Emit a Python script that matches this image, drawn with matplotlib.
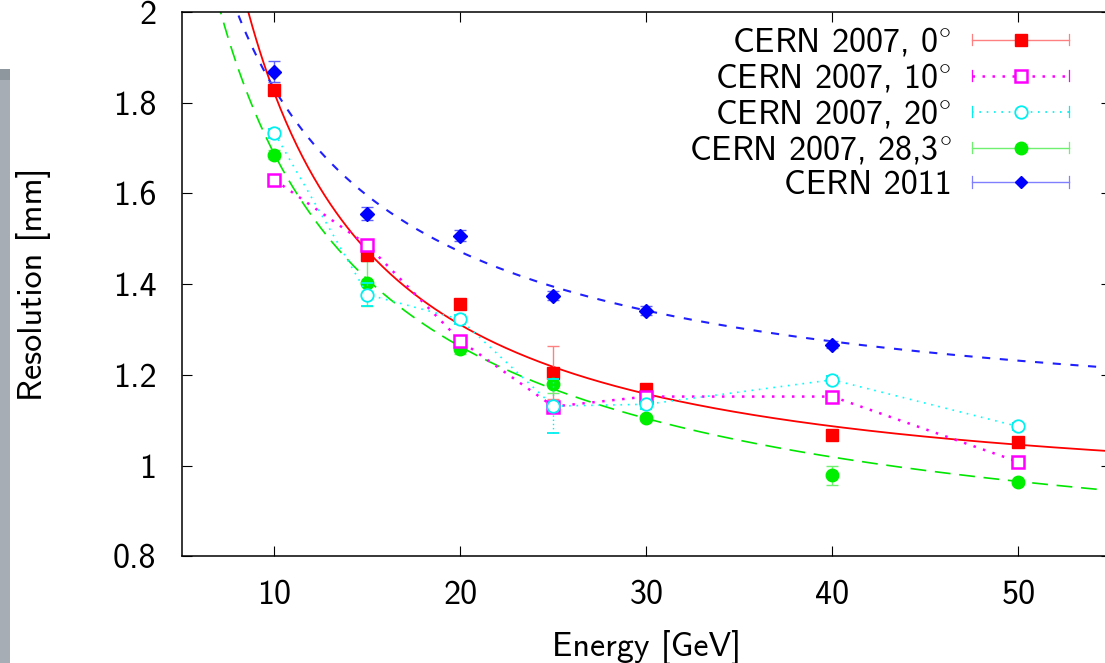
import numpy as np
import matplotlib
matplotlib.use("Agg")
import matplotlib.pyplot as plt
from matplotlib.lines import Line2D
from matplotlib.legend_handler import HandlerBase
from matplotlib.patches import Rectangle

plt.rcParams['font.family'] = ['cmss10', 'DejaVu Sans']
plt.rcParams['axes.formatter.use_mathtext'] = True
plt.rcParams['mathtext.fontset'] = 'cm'

# ---------------- data ----------------
energy_2007 = [10, 15, 20, 25, 30, 40, 50]
energy_2011 = [10, 15, 20, 25, 30, 40]

res_0deg = [1.827, 1.465, 1.357, 1.205, 1.168, 1.067, 1.052]
err_0deg = [0.010, 0.010, 0.010, 0.058, 0.010, 0.006, 0.006]

res_10deg = [1.630, 1.486, 1.275, 1.130, 1.152, 1.152, 1.008]
err_10deg = [0.010, 0.010, 0.010, 0.010, 0.010, 0.010, 0.010]

res_20deg = [1.733, 1.377, 1.322, 1.131, 1.135, 1.189, 1.086]
err_20deg = [0.010, 0.025, 0.010, 0.060, 0.010, 0.008, 0.008]

res_28deg = [1.685, 1.402, 1.256, 1.179, 1.105, 0.978, 0.963]
err_28deg = [0.010, 0.050, 0.010, 0.020, 0.006, 0.020, 0.006]

res_2011 = [1.868, 1.555, 1.507, 1.374, 1.341, 1.266]
err_2011 = [0.023, 0.014, 0.012, 0.010, 0.010, 0.008]

# fit parameters of sigma(E) = a / E**p + b
fit_0deg = (14.07, 1.19, 0.912)
fit_28deg = (6.285, 0.80, 0.690)
fit_2011 = (5.788, 0.86, 1.031)

# the degree sign is typeset through mathtext (cmss10 has no ° glyph)
labels = [r"CERN 2007, 0$^{\circ}$", r"CERN 2007, 10$^{\circ}$",
          r"CERN 2007, 20$^{\circ}$", r"CERN 2007, 28,3$^{\circ}$", "CERN 2011"]
xticks = [10, 20, 30, 40, 50]
yticks = [0.8, 1.0, 1.2, 1.4, 1.6, 1.8, 2.0]
ytick_labels = ["0.8", "1", "1.2", "1.4", "1.6", "1.8", "2"]


def model(E, params):
    a, p, b = params
    return a / np.power(E, p) + b


# ---------------- figure ----------------
W, H = 1105, 663
fig = plt.figure(figsize=(W / 100, H / 100), dpi=100)
ax = fig.add_axes([181.5 / W, (H - 556.2) / H, 929.8 / W, 544.2 / H])
ax.set_xlim(5, 55)
ax.set_ylim(0.8, 2.0)

FS = 24.5

# fit curves
E = np.linspace(5, 55, 500)
ax.plot(E, model(E, fit_0deg), color='#ff0000', lw=1.3, zorder=2)
ax.plot(E, model(E, fit_28deg), color='#00e600', lw=1.2,
        linestyle=(0, (9.5, 5.2)), zorder=2)
ax.plot(E, model(E, fit_2011), color='#2020ff', lw=1.5,
        linestyle=(0, (3.9, 4.6)), zorder=2)

cap = 4.0
# series
c0 = ax.errorbar(energy_2007, res_0deg, yerr=err_0deg, fmt='s', color='#ff0000',
                 ms=8.0, ecolor='#ff8080', elinewidth=1.0, capsize=cap, capthick=1.0,
                 linestyle='none', zorder=4)
c10 = ax.errorbar(energy_2007, res_10deg, yerr=err_10deg, fmt='s', color='#ff00ff',
                  mfc='white', mec='#ff00ff', mew=1.8, ms=9.0, ecolor='#ff00ff',
                  elinewidth=0.8, capsize=2.5, capthick=0.8,
                  linestyle=(0, (1, 3)), lw=1.8, dash_capstyle='butt', zorder=5)
c20 = ax.errorbar(energy_2007, res_20deg, yerr=err_20deg, fmt='o', color='#00ffff',
                  mfc='white', mec='#00f0f0', mew=1.3, ms=9.0, ecolor='#00f0f0',
                  elinewidth=1.0, capsize=cap, capthick=1.0,
                  linestyle=(0, (1, 3.4)), lw=1.2, zorder=5)
c20[2][0].set_linestyle((0, (1, 2)))
c28 = ax.errorbar(energy_2007, res_28deg, yerr=err_28deg, fmt='o', color='#00ee00',
                  mec='#00ee00', ms=9.0, ecolor='#70f070', elinewidth=1.0,
                  capsize=cap, capthick=1.0, linestyle='none', zorder=4)
c11 = ax.errorbar(energy_2011, res_2011, yerr=err_2011, fmt='D', color='#0000ff',
                  ms=6.8, ecolor='#6060ff', elinewidth=1.0, capsize=cap, capthick=1.0,
                  linestyle='none', zorder=4)

# axes styling
for sp in ax.spines.values():
    sp.set_linewidth(1.1)
    sp.set_color('black')
ax.set_xticks(xticks)
ax.set_xticklabels([str(t) for t in xticks])
ax.set_yticks(yticks)
ax.set_yticklabels(ytick_labels)
ax.tick_params(direction='in', length=7.2, width=0.8, top=True, right=True,
               labelsize=FS)
ax.tick_params(axis='x', pad=17)
ax.tick_params(axis='y', pad=18)
ax.set_xlabel("Energy [GeV]", fontsize=FS)
ax.set_ylabel("Resolution [mm]", fontsize=FS)
ax.xaxis.set_label_coords(0.5, -0.135)
ax.yaxis.set_label_coords(-0.14, 0.5)


# ---------------- legend (gnuplot style samples) ----------------
class GnuplotKey(HandlerBase):
    def __init__(self, line_kw, marker_kw, cap_h=4.0):
        super().__init__()
        self.line_kw = line_kw
        self.marker_kw = marker_kw
        self.cap_h = cap_h

    def create_artists(self, legend, orig_handle, xdescent, ydescent,
                       width, height, fontsize, trans):
        y = height / 2.0 - ydescent
        x0, x1 = -xdescent, width - xdescent
        arts = [Line2D([x0, x1], [y, y], **self.line_kw)]
        ckw = dict(self.line_kw)
        ckw['linestyle'] = '-'
        ckw['lw'] = 0.9
        for xc in (x0, x1):
            arts.append(Line2D([xc, xc], [y - self.cap_h, y + self.cap_h], **ckw))
        arts.append(Line2D([(x0 + x1) / 2.0], [y], linestyle='none', **self.marker_kw))
        for a in arts:
            a.set_transform(trans)
        return arts


hmap = {
    c0: GnuplotKey(dict(color='#ff8080', lw=1.0),
                   dict(marker='s', color='#ff0000', ms=8.0)),
    c10: GnuplotKey(dict(color='#ff00ff', lw=1.8, linestyle=(0, (1, 3))),
                    dict(marker='s', mfc='white', mec='#ff00ff', mew=1.8, ms=9.0)),
    c20: GnuplotKey(dict(color='#00f0f0', lw=1.2, linestyle=(0, (1, 3.4))),
                    dict(marker='o', mfc='white', mec='#00f0f0', mew=1.3, ms=9.0)),
    c28: GnuplotKey(dict(color='#70f070', lw=1.0),
                    dict(marker='o', color='#00ee00', ms=9.0)),
    c11: GnuplotKey(dict(color='#8080ff', lw=1.0),
                    dict(marker='D', color='#0000ff', ms=6.0)),
}
leg = ax.legend([c0, c10, c20, c28, c11], labels, handler_map=hmap,
                loc='upper right', bbox_to_anchor=(0.9545, 0.975),
                frameon=False, markerfirst=False, fontsize=FS,
                handlelength=2.85, handletextpad=0.6, labelspacing=0.09,
                borderpad=0.0, borderaxespad=0.0)

# ---------------- screenshot surroundings ----------------
fig.patches.append(Rectangle((0, 0), 10 / W, (H - 69) / H, transform=fig.transFigure,
                             facecolor='#a6adb4', edgecolor='none', zorder=-5))
fig.patches.append(Rectangle((0, (H - 80) / H), 10 / W, 11 / H, transform=fig.transFigure,
                             facecolor='#8f979e', edgecolor='none', zorder=-4))

fig.savefig("out.png", dpi=100)
